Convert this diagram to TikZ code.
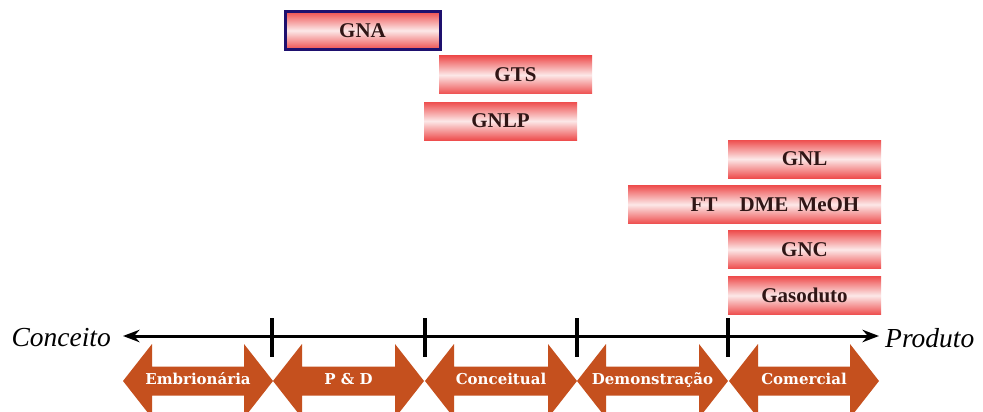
\documentclass[tikz,border=0pt]{standalone}
\usepackage{fontspec}
\setmainfont{Liberation Serif}
\newfontfamily\phasefont{DejaVu Serif}
\usepackage{xcolor}
\usepackage{tikz}
\usetikzlibrary{arrows.meta}

\definecolor{barred}{RGB}{238,78,78}
\definecolor{barpink}{RGB}{252,232,232}
\definecolor{bartext}{RGB}{48,22,22}
\definecolor{gnablue}{RGB}{30,16,110}
\definecolor{phaseorange}{RGB}{197,80,30}

\tikzset{
  bar/.style={top color=barred, bottom color=barred, middle color=barpink,
    minimum height=38pt, inner sep=0pt, text=bartext,
    font=\fontsize{21}{23}\selectfont\bfseries},
  phase/.style={fill=phaseorange},
  phaselabel/.style={text=white, inner sep=0pt, anchor=base,
    font=\phasefont\fontsize{15}{17}\selectfont\bfseries},
  endlabel/.style={font=\fontsize{27.5}{30}\selectfont\itshape, inner sep=0pt},
  axis/.style={line width=3pt, Stealth-Stealth, >={Stealth[length=15pt,width=13pt]}},
  tickmark/.style={line width=4pt}
}

\begin{document}
\begin{tikzpicture}[x=1pt,y=-1pt]
\clip (0,0) rectangle (983,412);
\fill[white] (0,0) rectangle (983,412);

% technology bars
\node[bar, minimum width=155pt, draw=gnablue, line width=3pt] (gna) at (362.5,30.5) {GNA};
\node[bar, minimum width=153pt] (gts) at (515.5,75) {GTS};
\node[bar, minimum width=153pt] (gnlp) at (500.5,121) {GNLP};
\node[bar, minimum width=153pt] (gnl) at (804.5,159) {GNL};
\node[bar, minimum width=253pt] (ft) at (754.5,204.5) {};
\node[bar, fill opacity=0, text opacity=1] (ftlabel) at (775,204.5) {FT\hspace{22pt}DME\hspace{9pt}MeOH};
\node[bar, minimum width=153pt] (gnc) at (804.5,249.5) {GNC};
\node[bar, minimum width=153pt] (gasoduto) at (804.5,295.5) {Gasoduto};

% axis
\coordinate (axl) at (123,336);
\coordinate (axr) at (879,336);
\coordinate (t1) at (272,336);
\coordinate (t2) at (425,336);
\coordinate (t3) at (577,336);
\coordinate (t4) at (728,336);
\node[endlabel, anchor=east] (conceito) at (111,338) {Conceito};
\node[endlabel, anchor=west] (produto) at (885,338) {Produto};
\draw[axis] (axl) -- (axr);
\foreach \t in {t1,t2,t3,t4}
  \draw[tickmark] ([yshift=18pt]\t) -- ([yshift=-21pt]\t);

% phases
\foreach \xa/\xb/\nm/\txt in {123/273/embrionaria/Embrionária, 273/424/pd/P \& D,
    425/577/conceitual/Conceitual, 577/728/demonstracao/Demonstração,
    729/879/comercial/Comercial}{
  \fill[phase] (\xa,381) -- ({\xa+29},344) -- ({\xa+29},366.5) -- ({\xb-29},366.5)
    -- ({\xb-29},344) -- (\xb,381) -- ({\xb-29},418) -- ({\xb-29},395.5)
    -- ({\xa+29},395.5) -- ({\xa+29},418) -- cycle;
  \node[phaselabel] (\nm) at ({(\xa+\xb)/2},384.5) {\txt};
}
\end{tikzpicture}
\end{document}
